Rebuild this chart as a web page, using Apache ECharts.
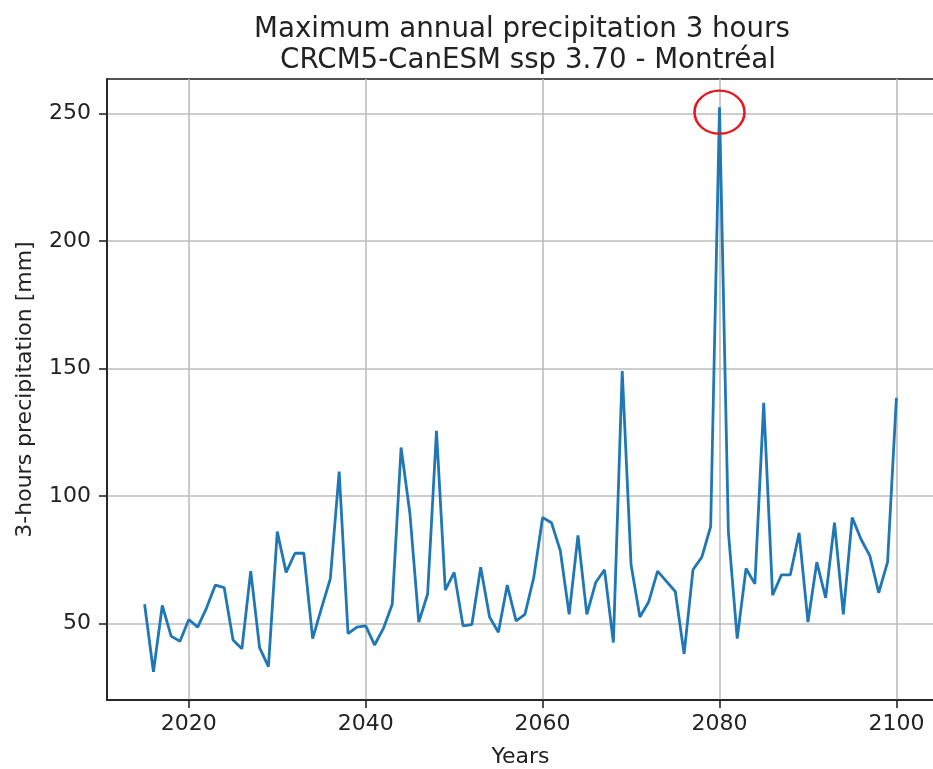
<!DOCTYPE html>
<html>
<head>
<meta charset="utf-8">
<script src="https://cdn.jsdelivr.net/npm/echarts@6/dist/echarts.min.js"></script>
<style>
  html, body { margin: 0; padding: 0; background: #fff; }
  #chart { width: 933px; height: 769px; }
</style>
</head>
<body>
<div id="chart"></div>
<script>
// Annual maximum 3-hour precipitation, CRCM5-CanESM ssp 3.70, Montréal
const years = [
  2015, 2016, 2017, 2018, 2019, 2020, 2021, 2022, 2023, 2024,
  2025, 2026, 2027, 2028, 2029, 2030, 2031, 2032, 2033, 2034,
  2035, 2036, 2037, 2038, 2039, 2040, 2041, 2042, 2043, 2044,
  2045, 2046, 2047, 2048, 2049, 2050, 2051, 2052, 2053, 2054,
  2055, 2056, 2057, 2058, 2059, 2060, 2061, 2062, 2063, 2064,
  2065, 2066, 2067, 2068, 2069, 2070, 2071, 2072, 2073, 2074,
  2075, 2076, 2077, 2078, 2079, 2080, 2081, 2082, 2083, 2084,
  2085, 2086, 2087, 2088, 2089, 2090, 2091, 2092, 2093, 2094,
  2095, 2096, 2097, 2098, 2099, 2100
];
const precipMm = [
  57.5, 31, 57, 45, 43, 51.5, 48.5, 56, 65, 64,
  43.5, 40, 70.5, 40.5, 33, 86, 70, 77.5, 77.5, 44,
  56, 67.5, 109.5, 46, 48.5, 49, 41.5, 48, 57.5, 119,
  93, 50.5, 61.5, 125.5, 63, 70, 49, 49.5, 72, 52.5,
  46.5, 65, 51, 53.5, 68, 91.5, 89.5, 78.5, 53.5, 84.5,
  53.5, 66, 71, 42.5, 149, 73, 52.5, 58.5, 70.5, 66.5,
  62.5, 38, 71, 76, 88, 252.5, 86, 44, 71.5, 65.5,
  136.5, 61, 69, 69, 85.5, 50.5, 74, 60, 89.5, 53.5,
  91.5, 83, 76.5, 62, 74, 138.5
];
const xTicks = [2020, 2040, 2060, 2080, 2100];
const yTicks = [50, 100, 150, 200, 250];

const titleLine1 = 'Maximum annual precipitation 3 hours';
const titleLine2 = 'CRCM5-CanESM ssp 3.70 - Montréal';
const xName = 'Years';
const yName = '3-hours precipitation [mm]';

// 5% padding around the data range on both axes
function padded(arr) {
  const lo = Math.min(...arr), hi = Math.max(...arr);
  const m = (hi - lo) * 0.05;
  return [lo - m, hi + m];
}
const [xMin, xMax] = padded(years);
const [yMin, yMax] = padded(precipMm);

const seriesData = years.map((y, i) => [y, precipMm[i]]);

const FONT = 'DejaVu Sans';
const TXT = '#222222';

const chart = echarts.init(document.getElementById('chart'), null, { renderer: 'canvas' });
chart.setOption({
  animation: false,
  backgroundColor: '#ffffff',
  textStyle: { fontFamily: FONT },
  title: [
    { text: titleLine1, left: 517, top: 11, textAlign: 'center',
      textStyle: { fontFamily: FONT, fontSize: 27.7, fontWeight: 'normal', color: TXT } },
    { text: titleLine2, left: 523, top: 42, textAlign: 'center',
      textStyle: { fontFamily: FONT, fontSize: 27.7, fontWeight: 'normal', color: TXT } }
  ],
  grid: {
    left: 107, right: -1, top: 79, bottom: 69,
    outerBoundsMode: 'none',
    containLabel: false,
    show: true, borderColor: '#1a1a1a', borderWidth: 1.5, backgroundColor: 'transparent'
  },
  xAxis: {
    type: 'value', min: xMin, max: xMax,
    name: xName, nameLocation: 'middle', nameGap: 46,
    nameTextStyle: { fontFamily: FONT, fontSize: 22, color: TXT },
    axisLine: { show: true, onZero: false, lineStyle: { color: '#1a1a1a', width: 1.5 } },
    axisTick: { show: true, inside: false, length: 8, customValues: xTicks,
      lineStyle: { color: '#1a1a1a', width: 1.5 } },
    axisLabel: { customValues: xTicks, margin: 13, fontFamily: FONT, fontSize: 22, color: TXT,
      formatter: v => String(Math.round(v)) },
    splitLine: { show: true, lineStyle: { color: '#bdbdbd', width: 1.6 } }
  },
  yAxis: {
    type: 'value', min: yMin, max: yMax,
    name: yName, nameLocation: 'middle', nameGap: 71, nameRotate: 90,
    nameTextStyle: { fontFamily: FONT, fontSize: 22, color: TXT },
    axisLine: { show: true, onZero: false, lineStyle: { color: '#1a1a1a', width: 1.5 } },
    axisTick: { show: true, inside: false, length: 8, customValues: yTicks,
      lineStyle: { color: '#1a1a1a', width: 1.5 } },
    axisLabel: { customValues: yTicks, margin: 16, fontFamily: FONT, fontSize: 22, color: TXT,
      formatter: v => String(Math.round(v)) },
    splitLine: { show: true, lineStyle: { color: '#bdbdbd', width: 1.6 } }
  },
  series: [{
    type: 'line',
    data: seriesData,
    showSymbol: false,
    symbol: 'none',
    lineStyle: { color: '#1f77b4', width: 2.8 },
    itemStyle: { color: '#1f77b4' },
    // red ring around the annual maximum
    markPoint: {
      symbol: 'circle',
      symbolSize: [50, 43],
      symbolOffset: [0, 5],
      silent: true,
      label: { show: false },
      itemStyle: { color: 'rgba(0,0,0,0)', borderColor: '#e8161e', borderWidth: 2.4 },
      data: [{ type: 'max' }]
    }
  }]
});
</script>
</body>
</html>
